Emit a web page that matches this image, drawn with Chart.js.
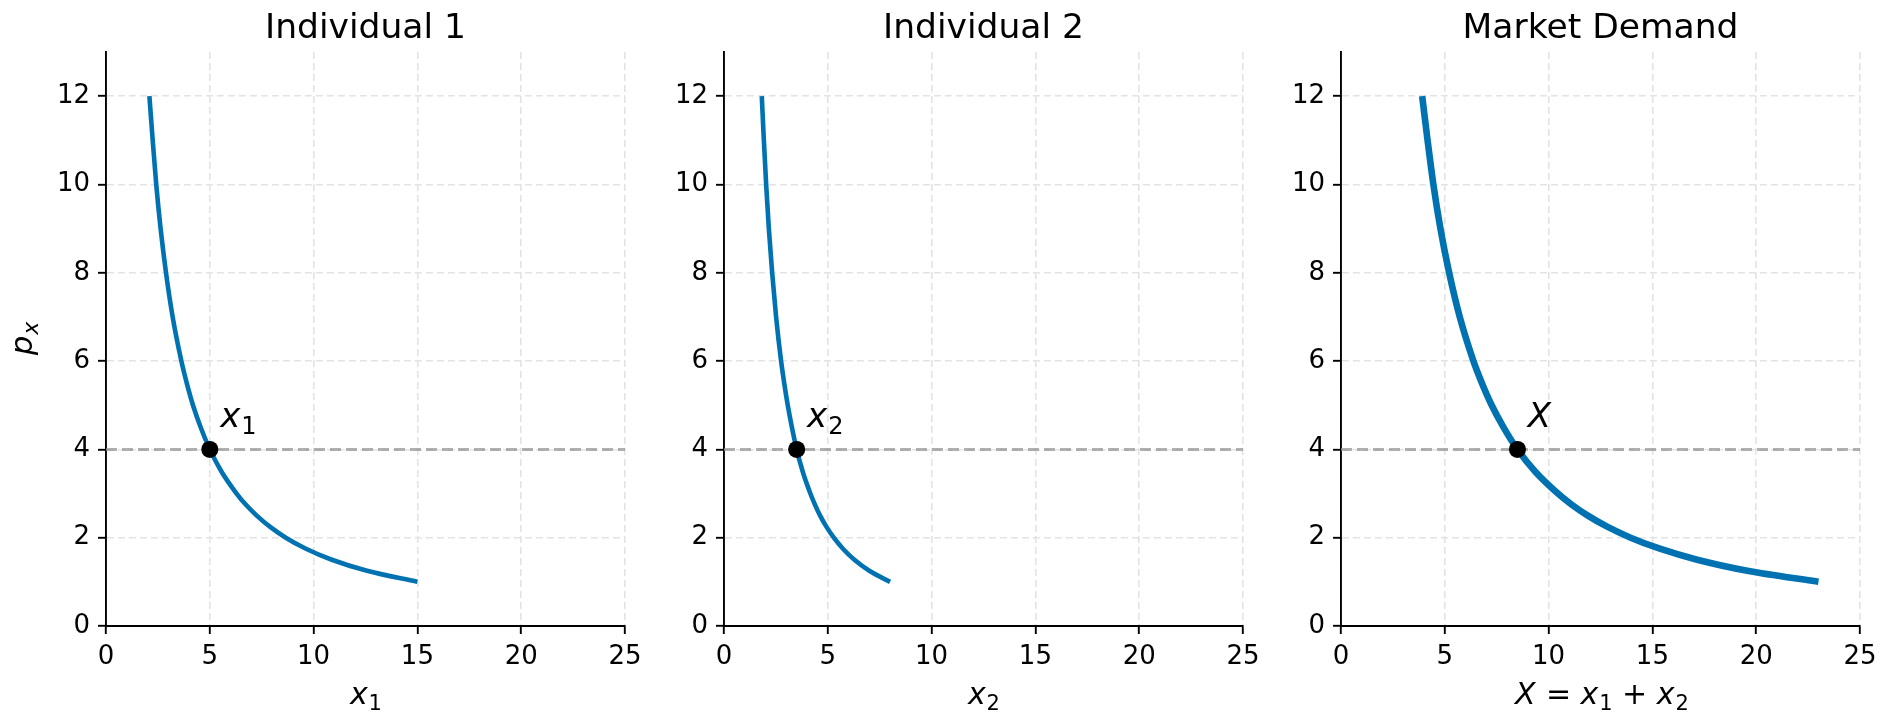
<!DOCTYPE html>
<html><head><meta charset="utf-8">
<script src="https://cdn.jsdelivr.net/npm/chart.js@4.4.1/dist/chart.umd.min.js"></script>
<style>
html,body{margin:0;padding:0;background:#fff;width:1888px;height:716px;overflow:hidden;}
.p{position:absolute;top:0;width:640px;height:716px;}
</style></head><body>
<div class="p" style="left:0px"><canvas id="c1"></canvas></div>
<div class="p" style="left:618px"><canvas id="c2"></canvas></div>
<div class="p" style="left:1235px"><canvas id="c3"></canvas></div>
<script>
const prices       = [12, 11, 10, 9, 8, 7, 6, 5.5, 5, 4.5, 4, 3.5, 3, 2.75, 2.5, 2.25, 2, 1.75, 1.5, 1.25, 1];
const demand1      = [2.09, 2.25, 2.42, 2.63, 2.89, 3.21, 3.63, 3.89, 4.19, 4.56, 5.0, 5.56, 6.29, 6.73, 7.26, 7.89, 8.66, 9.63, 10.88, 12.57, 15.0];
const demand2      = [1.82, 1.92, 2.03, 2.16, 2.32, 2.51, 2.75, 2.90, 3.07, 3.27, 3.5, 3.79, 4.16, 4.38, 4.63, 4.93, 5.29, 5.73, 6.28, 7.0, 8.0];
const marketDemand = [3.91, 4.17, 4.45, 4.79, 5.21, 5.72, 6.38, 6.79, 7.26, 7.83, 8.5, 9.35, 10.45, 11.11, 11.89, 12.82, 13.95, 15.36, 17.16, 19.57, 23.0];
const marketPrice  = 4;
const eqQuantities = [5, 3.5, 8.5];
const panelTitles  = ['Individual 1', 'Individual 2', 'Market Demand'];
// axis labels as [text, style] runs: i = italic, n = normal, s = subscript, si = italic subscript
const xAxisLabels  = [
  [['x', 'i'], ['1', 's']],
  [['x', 'i'], ['2', 's']],
  [['X', 'i'], [' = ', 'n'], ['x', 'i'], ['1', 's'], [' + ', 'n'], ['x', 'i'], ['2', 's']]
];
const yAxisLabel   = [['p', 'i'], ['x', 'si']];
const pointLabels  = [[['x', 'i'], ['1', 's']], [['x', 'i'], ['2', 's']], [['X', 'i']]];
const xTicks = [0, 5, 10, 15, 20, 25];
const yTicks = [0, 2, 4, 6, 8, 10, 12];

const FONT = '"DejaVu Sans", sans-serif';
const BLUE = '#0072B2';

function runFont(style, size) {
  if (style === 'i') return 'italic ' + size + 'px ' + FONT;
  if (style === 'si') return 'italic ' + Math.round(size * 0.7) + 'px ' + FONT;
  if (style === 's') return Math.round(size * 0.7) + 'px ' + FONT;
  return size + 'px ' + FONT;
}
function runsWidth(ctx, runs, size) {
  let w = 0;
  for (const [t, st] of runs) { ctx.font = runFont(st, size); w += ctx.measureText(t).width; }
  return w;
}
function drawRuns(ctx, runs, x, y, size) {
  let cx = x;
  for (const [t, st] of runs) {
    ctx.font = runFont(st, size);
    const dy = (st === 's' || st === 'si') ? size * 0.2 : 0;
    ctx.fillText(t, cx, y + dy);
    cx += ctx.measureText(t).width + ((st === 'i') ? size * 0.03 : 0);
  }
}

const textPlugin = {
  id: 'mathText',
  afterDatasetsDraw(chart, args, opts) {
    const {ctx, chartArea} = chart;
    const xs = chart.scales.x, ys = chart.scales.y;
    ctx.save();
    ctx.fillStyle = '#000';
    ctx.textAlign = 'left';
    ctx.textBaseline = 'alphabetic';
    const px = xs.getPixelForValue(opts.qx + 0.5);
    const py = ys.getPixelForValue(marketPrice + 0.5);
    drawRuns(ctx, opts.pointLabel, px, py, 34);
    const xl = opts.xLabel;
    const wx = runsWidth(ctx, xl, 30);
    drawRuns(ctx, xl, (chartArea.left + chartArea.right) / 2 - wx / 2, 704, 30);
    if (opts.yLabel) {
      const wy = runsWidth(ctx, opts.yLabel, 31);
      ctx.translate(32, (chartArea.top + chartArea.bottom) / 2);
      ctx.rotate(-Math.PI / 2);
      drawRuns(ctx, opts.yLabel, -wy / 2, 0, 31);
    }
    ctx.restore();
  }
};

function makeChart(id, idx, qty, lw) {
  const curve = prices.map((p, i) => ({x: qty[i], y: p}));
  const gridOpts = {color: '#e3e3e3', lineWidth: 1.6, tickColor: '#000',
                    tickLength: 8, tickWidth: 1.9, tickBorderDash: []};
  const borderOpts = {display: true, color: '#000', width: 1.9, dash: [7, 4]};
  new Chart(document.getElementById(id), {
    type: 'line',
    data: {
      datasets: [
        {data: [{x: eqQuantities[idx], y: marketPrice}], showLine: false, pointRadius: 8.5,
         pointBackgroundColor: '#000', pointBorderWidth: 0, pointHoverRadius: 8.5},
        {data: curve, borderColor: BLUE, borderWidth: lw, pointRadius: 0,
         cubicInterpolationMode: 'monotone', fill: false, borderCapStyle: 'butt'},
        {data: [xTicks[0], xTicks[xTicks.length - 1]].map(v => ({x: v, y: marketPrice})),
         borderColor: 'rgba(150,150,150,0.75)', borderWidth: 3, borderDash: [11, 5], pointRadius: 0}
      ]
    },
    options: {
      responsive: true, maintainAspectRatio: false, animation: false,
      events: [],
      layout: {padding: {left: 0, right: 15, top: 0, bottom: 0}},
      plugins: {
        legend: {display: false}, tooltip: {enabled: false},
        title: {display: true, text: panelTitles[idx], fullSize: false, color: '#000',
                font: {family: FONT, size: 34.5, weight: 'normal'}, padding: {top: 8.6, bottom: 2}},
        mathText: {qx: eqQuantities[idx], pointLabel: pointLabels[idx], xLabel: xAxisLabels[idx],
                   yLabel: idx === 0 ? yAxisLabel : null}
      },
      scales: {
        x: {
          type: 'linear', min: 0, max: 25,
          afterBuildTicks: s => { s.ticks = xTicks.map(v => ({value: v})); },
          afterFit: s => { s.height = 90; s.paddingLeft = 0; s.paddingRight = 0; },
          ticks: {color: '#000', font: {family: FONT, size: 26}, padding: 8, maxRotation: 0},
          grid: gridOpts,
          border: borderOpts
        },
        y: {
          type: 'linear', min: 0, max: 13,
          afterBuildTicks: s => { s.ticks = yTicks.map(v => ({value: v})); },
          afterFit: s => { s.width = 106; },
          ticks: {color: '#000', font: {family: FONT, size: 26}, padding: 8},
          grid: gridOpts,
          border: borderOpts
        }
      }
    },
    plugins: [textPlugin]
  });
}
makeChart('c1', 0, demand1, 4.6);
makeChart('c2', 1, demand2, 4.6);
makeChart('c3', 2, marketDemand, 6.6);
</script>
</body></html>
